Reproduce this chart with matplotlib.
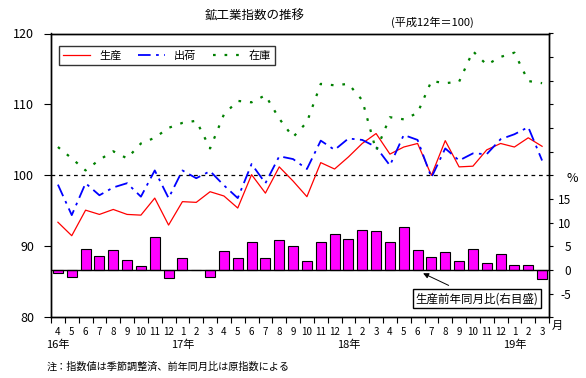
"""Mining and manufacturing index trend (production / shipments / inventory)."""

import matplotlib
matplotlib.use("Agg")
import matplotlib.pyplot as plt
import numpy as np


# ── style ─────────────────────────────────────────────────────────────────

plt.rcParams["font.family"] = ["Noto Sans CJK JP", "DejaVu Sans"]
plt.rcParams["axes.unicode_minus"] = False
W, H = 586, 378


# ── data ──────────────────────────────────────────────────────────────────

month_labels = ["4", "5", "6", "7", "8", "9", "10", "11", "12", "1", "2", "3"] * 3
year_labels = ["16年", "17年", "18年", "19年"]
year_pos = [0, 9, 21, 33]

production = [93.4, 91.5, 95.1, 94.5, 95.2, 94.5, 94.4, 96.8, 93.0, 96.3, 96.2, 97.7,
              97.1, 95.4, 100.1, 97.5, 101.2, 99.2, 97.0, 101.8, 100.9, 102.6, 104.5, 105.9,
              103.0, 104.0, 104.5, 100.0, 104.9, 101.2, 101.3, 103.6, 104.5, 104.0, 105.3, 104.1]
shipments = [98.7, 94.4, 98.9, 97.2, 98.3, 98.9, 97.0, 100.7, 96.8, 100.7, 99.6, 100.6,
             98.6, 96.8, 101.6, 98.9, 102.7, 102.3, 100.9, 104.9, 103.6, 105.2, 105.0, 104.0,
             101.4, 105.7, 105.0, 99.7, 103.8, 102.1, 103.1, 103.0, 105.1, 105.8, 106.8, 102.1]
inventory = [104.0, 102.4, 100.7, 102.2, 103.4, 102.4, 104.5, 105.3, 106.7, 107.4, 107.7, 103.8,
             108.6, 110.5, 110.3, 111.3, 108.0, 105.4, 107.5, 112.9, 112.7, 112.9, 110.6, 103.5,
             108.2, 107.9, 108.8, 113.3, 113.0, 113.2, 117.5, 115.6, 116.7, 117.3, 113.3, 113.0]
yoy = [-0.6, -1.5, 4.4, 3.0, 4.2, 2.1, 0.8, 7.0, -1.7, 2.5, 0.0, -1.5,
       4.0, 2.5, 5.9, 2.5, 6.3, 5.1, 1.9, 5.9, 7.6, 6.5, 8.5, 8.2,
       5.9, 9.1, 4.2, 2.7, 3.8, 1.9, 4.4, 1.5, 3.4, 1.1, 1.1, -1.9]


# ── plotting ──────────────────────────────────────────────────────────────

def fx(px):
    return px / W


def fy(py):
    return 1 - py / H


fig = plt.figure(figsize=(W / 100, H / 100), dpi=100)
ax2 = fig.add_axes([fx(51), fy(317.3), fx(498), (317.3 - 33.5) / H])
ax = ax2.twinx()
ax.yaxis.tick_left()
ax2.yaxis.tick_right()
ax.set_zorder(ax2.get_zorder() + 1)
ax.patch.set_visible(False)

x = np.arange(len(production))

# bars: production year-over-year (right scale)
ax2.bar(x, yoy, width=0.72, color="#ff00ff", edgecolor="black", linewidth=0.8, zorder=2)
ax2.axhline(0, color="black", linewidth=1.0, zorder=3)
ax2.set_ylim(-10, 50)
ax2.set_yticks(np.arange(-10, 51, 5))
ax2.set_yticklabels(["" if v not in (-5, 0, 5, 10, 15) else str(v)
                     for v in range(-10, 51, 5)], fontsize=8.5)
for lbl in ax2.get_yticklabels():
    lbl.set_horizontalalignment("right")
ax2.tick_params(axis="y", direction="out", length=3, width=0.8, pad=13)

# lines: indices (left scale)
ax.axhline(100, color="black", linewidth=0.9, dashes=(3, 3))
ax.plot(x, production, color="#ff0000", linewidth=0.9, label="生産")
ax.plot(x, shipments, color="#0000ff", linewidth=1.3, dashes=(7, 3, 1.5, 3), label="出荷")
ax.plot(x, inventory, color="#008000", linewidth=1.6, dashes=(1.2, 4), label="在庫")
ax.set_ylim(80, 120)
ax.set_yticks([80, 90, 100, 110, 120])
ax.tick_params(axis="y", direction="out", length=5, width=0.8, pad=7, labelsize=9)

# x axis: boundary ticks, centred month labels
ax2.set_xlim(-0.5, len(x) - 0.5)
ax2.set_xticks(np.arange(-0.5, len(x), 1.0))
ax2.set_xticklabels([])
ax2.set_xticks(x, minor=True)
ax2.set_xticklabels(month_labels, minor=True, fontsize=7)
ax2.tick_params(axis="x", which="major", direction="out", length=4, width=0.8)
ax2.tick_params(axis="x", which="minor", length=0, pad=7)
for pos, lab in zip(year_pos, year_labels):
    ax2.text(pos, -0.098, lab, transform=ax2.get_xaxis_transform(),
             ha="center", va="center", fontsize=8)

for a in (ax, ax2):
    for s in a.spines.values():
        s.set_color("black")
        s.set_linewidth(1.0)

leg = ax.legend(loc="upper left", ncol=3, mode="expand",
                bbox_to_anchor=(fx(59), fy(70), fx(216), 24 / H),
                bbox_transform=fig.transFigure, fontsize=8, handlelength=2.4,
                frameon=True, fancybox=False, borderaxespad=0, borderpad=0.4)
leg.get_frame().set_edgecolor("black")
leg.get_frame().set_linewidth(1.0)

ax2.annotate("生産前年同月比(右目盛)", xy=(26.4, -0.7), xytext=(30.3, -6.1),
             ha="center", va="center", fontsize=8.3, zorder=5,
             bbox=dict(boxstyle="square,pad=0.25", fc="white", ec="black", lw=1.0),
             arrowprops=dict(arrowstyle="-|>", color="black", lw=0.7,
                             mutation_scale=8, shrinkA=6, shrinkB=0))

fig.text(fx(255), fy(16), "鉱工業指数の推移", ha="center", va="center", fontsize=9)
fig.text(fx(432), fy(22), "(平成12年＝100)", ha="center", va="center", fontsize=8)
fig.text(fx(572), fy(178), "%", ha="center", va="center", fontsize=9)
fig.text(fx(557), fy(326), "月", ha="center", va="center", fontsize=8)
fig.text(fx(47), fy(367), "注：指数値は季節調整済、前年同月比は原指数による",
         ha="left", va="center", fontsize=7.3)

fig.savefig("out.png", dpi=100)
